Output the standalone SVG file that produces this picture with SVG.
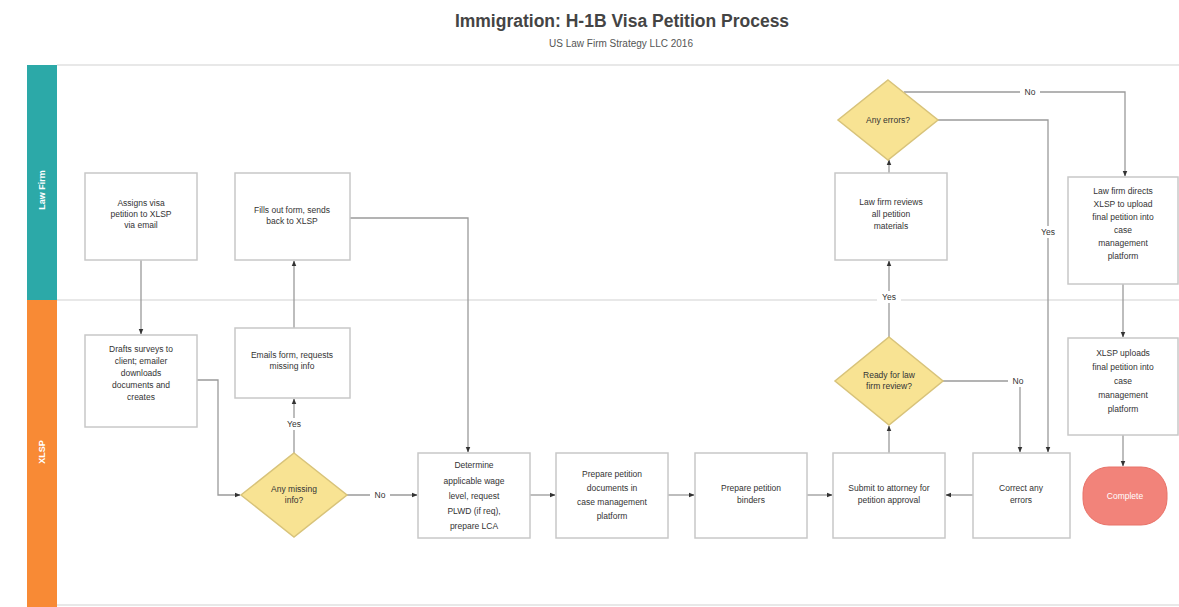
<svg xmlns="http://www.w3.org/2000/svg" width="1179" height="607" viewBox="0 0 1179 607">
<defs>
<marker id="ah" viewBox="0 0 10 10" refX="9" refY="5" markerWidth="6" markerHeight="6" orient="auto-start-reverse" markerUnits="userSpaceOnUse"><path d="M0,1 L10,5 L0,9 z" fill="#333"/></marker>
<style>
.t{font-family:"Liberation Sans",Arial,sans-serif;font-size:8.5px;fill:#333;text-anchor:middle}
.lbl{font-family:"Liberation Sans",Arial,sans-serif;font-size:8.5px;fill:#333;text-anchor:middle}
.box{fill:#fff;stroke:#c8c8c8;stroke-width:1.5}
.dia{fill:#f8e393;stroke:#d8c37a;stroke-width:1.5}
.c{fill:none;stroke:#9a9a9a;stroke-width:1.3;marker-end:url(#ah)}
.lane{font-family:"Liberation Sans",Arial,sans-serif;font-size:9px;fill:#fff;text-anchor:middle;font-weight:bold}
.rule{stroke:#e0e0e0;stroke-width:1.5}
</style>
</defs>
<rect width="1179" height="607" fill="#fff"/>
<text x="622" y="27" font-family="Liberation Sans,Arial,sans-serif" font-size="17.5" font-weight="bold" fill="#444" text-anchor="middle">Immigration: H-1B Visa Petition Process</text>
<text x="621" y="47" font-family="Liberation Sans,Arial,sans-serif" font-size="10" fill="#555" text-anchor="middle">US Law Firm Strategy LLC 2016</text>
<g id="lanes">
<line class="rule" x1="57" y1="65" x2="1179" y2="65"/>
<line class="rule" x1="57" y1="300" x2="1179" y2="300"/>
<line class="rule" x1="57" y1="605" x2="1179" y2="605"/>
<rect x="27" y="65" width="30" height="235" fill="#2ca9a8"/>
<rect x="27" y="300" width="30" height="307" fill="#f88a35"/>
<text class="lane" transform="translate(45,190) rotate(-90)">Law Firm</text>
<text class="lane" transform="translate(45,452) rotate(-90)">XLSP</text>
</g>
<g id="connectors">
<path class="c" d="M141,260 V334"/>
<path class="c" d="M197,380 H218 V495 H240"/>
<path class="c" d="M294,453 V399"/>
<path class="c" d="M294,328 V261"/>
<path class="c" d="M350,218 H468 V452"/>
<path class="c" d="M347,495 H417"/>
<path class="c" d="M530,495 H555"/>
<path class="c" d="M668,495 H694"/>
<path class="c" d="M807,495 H832"/>
<path class="c" d="M889,453 V426"/>
<path class="c" d="M889,337 V261"/>
<path class="c" d="M889,173 V160"/>
<path class="c" d="M904,92 H1125 V176"/>
<path class="c" d="M938,120 H1048 V452"/>
<path class="c" d="M943,381 H1020 V452"/>
<path class="c" d="M973,495 H946"/>
<path class="c" d="M1123,284 V337"/>
<path class="c" d="M1123,435 V466"/>
<rect x="283" y="418" width="22" height="12" fill="#fff"/><text class="lbl" x="294" y="427">Yes</text>
<rect x="370" y="489" width="20" height="12" fill="#fff"/><text class="lbl" x="380" y="498">No</text>
<rect x="877" y="291" width="24" height="12" fill="#fff"/><text class="lbl" x="889" y="300">Yes</text>
<rect x="1008" y="375" width="22" height="12" fill="#fff"/><text class="lbl" x="1018" y="384">No</text>
<rect x="1020" y="86" width="20" height="12" fill="#fff"/><text class="lbl" x="1030" y="95">No</text>
<rect x="1036" y="226" width="24" height="12" fill="#fff"/><text class="lbl" x="1048" y="235">Yes</text>
</g>
<g id="n1"><rect class="box" x="85" y="173" width="112" height="87"/><text class="t" x="141" y="206">Assigns visa</text><text class="t" x="141" y="217">petition to XLSP</text><text class="t" x="141" y="228">via email</text></g>
<g id="n2"><rect class="box" x="235" y="173" width="115" height="87"/><text class="t" x="292" y="213">Fills out form, sends</text><text class="t" x="292" y="224">back to XLSP</text></g>
<g id="n3"><rect class="box" x="85" y="335" width="112" height="92"/><text class="t" x="141" y="352">Drafts surveys to</text><text class="t" x="141" y="364">client; emailer</text><text class="t" x="141" y="376">downloads</text><text class="t" x="141" y="388">documents and</text><text class="t" x="141" y="400">creates</text></g>
<g id="n4"><rect class="box" x="235" y="328" width="115" height="70"/><text class="t" x="292" y="358">Emails form, requests</text><text class="t" x="292" y="369">missing info</text></g>
<g id="n5"><polygon class="dia" points="294,453 347,495 294,537 241,495"/><text class="t" x="294" y="492">Any missing</text><text class="t" x="294" y="503">info?</text></g>
<g id="n6"><rect class="box" x="418" y="453" width="112" height="85"/><text class="t" x="474" y="468">Determine</text><text class="t" x="474" y="484">applicable wage</text><text class="t" x="474" y="499">level, request</text><text class="t" x="474" y="514">PLWD (if req),</text><text class="t" x="474" y="529">prepare LCA</text></g>
<g id="n7"><rect class="box" x="556" y="453" width="112" height="85"/><text class="t" x="612" y="477">Prepare petition</text><text class="t" x="612" y="491">documents in</text><text class="t" x="612" y="505">case management</text><text class="t" x="612" y="519">platform</text></g>
<g id="n8"><rect class="box" x="695" y="453" width="112" height="85"/><text class="t" x="751" y="491">Prepare petition</text><text class="t" x="751" y="503">binders</text></g>
<g id="n9"><rect class="box" x="833" y="453" width="112" height="85"/><text class="t" x="889" y="491">Submit to attorney for</text><text class="t" x="889" y="503">petition approval</text></g>
<g id="n10"><rect class="box" x="973" y="453" width="97" height="85"/><text class="t" x="1021" y="491">Correct any</text><text class="t" x="1021" y="503">errors</text></g>
<g id="n11"><rect x="1083" y="467" width="84" height="58" rx="26" fill="#f2837a" stroke="#e87268" stroke-width="1"/><text class="t" x="1125" y="499" style="fill:#fff">Complete</text></g>
<g id="n12"><polygon class="dia" points="889,337 943,381 889,425 835,381"/><text class="t" x="889" y="378">Ready for law</text><text class="t" x="889" y="389">firm review?</text></g>
<g id="n13"><rect class="box" x="835" y="173" width="112" height="87"/><text class="t" x="891" y="205">Law firm reviews</text><text class="t" x="891" y="217">all petition</text><text class="t" x="891" y="229">materials</text></g>
<g id="n14"><polygon class="dia" points="888,80 938,120 888,160 838,120"/><text class="t" x="888" y="123">Any errors?</text></g>
<g id="n15"><rect class="box" x="1068" y="177" width="110" height="107"/><text class="t" x="1123" y="194">Law firm directs</text><text class="t" x="1123" y="207">XLSP to upload</text><text class="t" x="1123" y="220">final petition into</text><text class="t" x="1123" y="233">case</text><text class="t" x="1123" y="246">management</text><text class="t" x="1123" y="259">platform</text></g>
<g id="n16"><rect class="box" x="1068" y="338" width="110" height="97"/><text class="t" x="1123" y="356">XLSP uploads</text><text class="t" x="1123" y="370">final petition into</text><text class="t" x="1123" y="384">case</text><text class="t" x="1123" y="398">management</text><text class="t" x="1123" y="412">platform</text></g>
</svg>
